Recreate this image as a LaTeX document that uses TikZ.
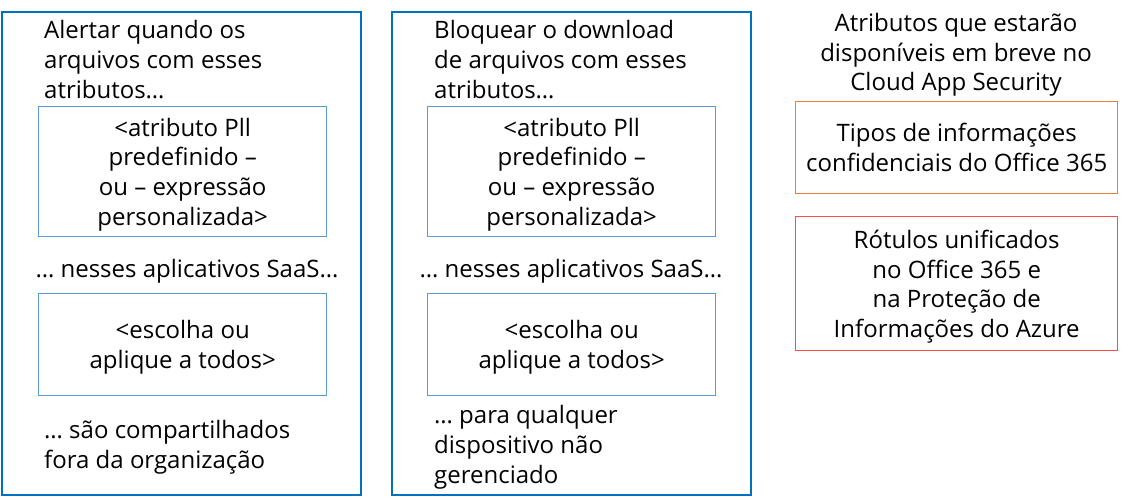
\documentclass[tikz,border=0pt]{standalone}
\usepackage{fontspec}
\setmainfont{Open Sans}
\definecolor{blue1}{HTML}{0070C0}
\definecolor{blue2}{HTML}{5B9BD5}
\definecolor{orange1}{HTML}{ED7D31}
\definecolor{red1}{HTML}{FF4B4B}
\begin{document}
\begin{tikzpicture}[x=1pt,y=-1pt,
  outerbox/.style={draw=blue1,line width=2.6pt},
  innerbox/.style={draw=blue2,line width=1.4pt,anchor=north west,minimum width=288},
  rbox/.style={line width=1.4pt,anchor=north west,minimum width=322},
  txt/.style={font=\fontsize{24}{29.8}\selectfont,inner sep=0pt,text depth=0pt},
  ltxt/.style={txt,align=left,anchor=north west},
  ctxt/.style={txt,align=center}]
\useasboundingbox (0,0) rectangle (1132,499);
% left panel
\draw[outerbox] (2,12) rectangle (361,495);
\node[innerbox,minimum height=130] (a1) at (38,106) {};
\node[innerbox,minimum height=102] (a2) at (38,293) {};
\node[ltxt] (t1) at (44,20) {Alertar quando os\\arquivos com esses\\atributos…};
\node[ctxt] (t2) at (a1.center) {<atributo Pll\\predefinido –\\ou – expressão\\personalizada>};
\node[ctxt] (t3) at (187,268) {… nesses aplicativos SaaS…};
\node[ctxt] (t4) at (a2.center) {<escolha ou\\aplique a todos>};
\node[ltxt] (t5) at (44,420) {… são compartilhados\\fora da organização};
% middle panel
\draw[outerbox] (392,12) rectangle (751,495);
\node[innerbox,minimum height=130] (b1) at (427,106) {};
\node[innerbox,minimum height=102] (b2) at (427,293) {};
\node[ltxt] (u1) at (434,20) {Bloquear o download\\de arquivos com esses\\atributos…};
\node[ctxt] (u2) at (b1.center) {<atributo Pll\\predefinido –\\ou – expressão\\personalizada>};
\node[ctxt] (u3) at (571,268) {… nesses aplicativos SaaS…};
\node[ctxt] (u4) at (b2.center) {<escolha ou\\aplique a todos>};
\node[ltxt] (u5) at (434,405) {… para qualquer\\dispositivo não\\gerenciado};
% right
\node[ctxt] (r0) at (956,52) {Atributos que estarão\\disponíveis em breve no\\Cloud App Security};
\node[rbox,draw=orange1,minimum height=92] (r1) at (795,101) {};
\node[ctxt] (r1t) at (r1.center) {Tipos de informações\\confidenciais do Office 365};
\node[rbox,draw=red1,minimum height=134] (r2) at (795,216) {};
\node[ctxt] (r2t) at (r2.center) {Rótulos unificados\\no Office 365 e\\na Proteção de\\Informações do Azure};
\end{tikzpicture}
\end{document}
